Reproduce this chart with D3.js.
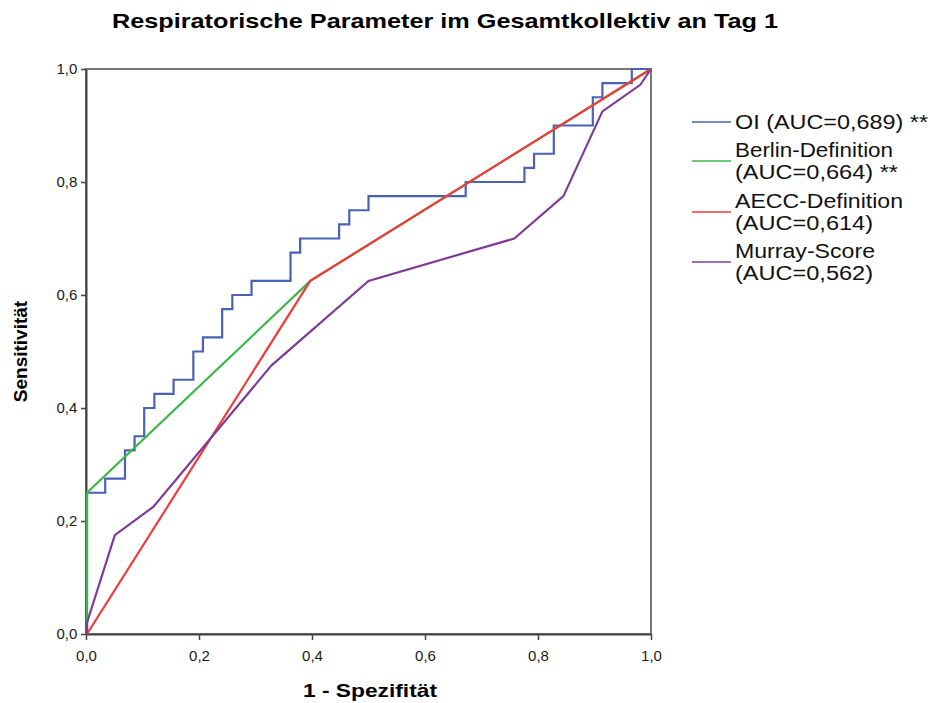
<!DOCTYPE html>
<html><head><meta charset="utf-8">
<script src="https://cdn.jsdelivr.net/npm/d3@7"></script>
<style>body{margin:0;background:#fff;} text{font-family:Arial,"Liberation Sans",Helvetica,sans-serif;}</style>
</head><body>
<svg id="c" width="930" height="703"></svg>
<script>
const titleText = "Respiratorische Parameter im Gesamtkollektiv an Tag 1";
const xLabel = "1 - Spezifität";
const yLabel = "Sensitivität";
const tickValues = [0, 0.2, 0.4, 0.6, 0.8, 1.0];

// OI step curve: operating points (step-before)
const oiFpr = [0, 0.034, 0.069, 0.086, 0.103, 0.121, 0.155, 0.190, 0.207, 0.241, 0.259, 0.293, 0.362, 0.379, 0.448, 0.466, 0.500, 0.672, 0.776, 0.793, 0.828, 0.897, 0.914, 0.966, 1.0];
const oiTpr = [0, 0.250, 0.275, 0.325, 0.350, 0.400, 0.425, 0.450, 0.500, 0.525, 0.575, 0.600, 0.625, 0.675, 0.700, 0.725, 0.750, 0.775, 0.800, 0.825, 0.850, 0.900, 0.950, 0.975, 1.0];
const berlinFpr = [0, 0, 0.397, 1.0];
const berlinTpr = [0, 0.25, 0.625, 1.0];
const aeccFpr = [0, 0.397, 1.0];
const aeccTpr = [0, 0.625, 1.0];
const murrayFpr = [0, 0, 0.051, 0.119, 0.328, 0.500, 0.758, 0.845, 0.914, 0.981, 1.0];
const murrayTpr = [0, 0.02, 0.175, 0.225, 0.475, 0.625, 0.700, 0.775, 0.925, 0.972, 1.0];

const seriesNames = ["OI", "Berlin", "AECC", "Murray"];
const legendLines = [["OI (AUC=0,689) **"], ["Berlin-Definition", "(AUC=0,664) **"], ["AECC-Definition", "(AUC=0,614)"], ["Murray-Score", "(AUC=0,562)"]];
const legendWidths = [[193], [158, 163], [168, 138], [140, 138]];
const colors = ["#4a62b4", "#3cb84a", "#ef3b3b", "#7e3c98"];

const svg = d3.select("#c");
const L = 86, T = 69, W = 565, H = 565;
const x = d3.scaleLinear().domain([0, 1]).range([L, L + W]);
const y = d3.scaleLinear().domain([0, 1]).range([T + H, T]);
const fmt = v => d3.format(".1f")(v).replace(".", ",");

// frame
svg.append("rect").attr("x", L).attr("y", T).attr("width", W).attr("height", H)
  .attr("fill", "none").attr("stroke", "#777").attr("stroke-width", 2);

const series = [
  {f: oiFpr, t: oiTpr, curve: d3.curveStepBefore},
  {f: berlinFpr, t: berlinTpr, curve: d3.curveLinear},
  {f: aeccFpr, t: aeccTpr, curve: d3.curveLinear},
  {f: murrayFpr, t: murrayTpr, curve: d3.curveLinear}
];

// axes
const xa = svg.append("g").attr("transform", `translate(0,${T + H})`)
  .call(d3.axisBottom(x).tickValues(tickValues).tickFormat(fmt).tickSize(6).tickSizeOuter(0));
const ya = svg.append("g").attr("transform", `translate(${L},0)`)
  .call(d3.axisLeft(y).tickValues(tickValues).tickFormat(fmt).tickSize(5).tickSizeOuter(0));
[xa, ya].forEach(g => {
  g.select(".domain").attr("stroke", "#444").attr("stroke-width", 2);
  g.selectAll(".tick line").attr("stroke", "#444").attr("stroke-width", 1.5);
  g.selectAll("text").attr("font-size", 15).attr("fill", "#1a1a1a").attr("font-family", "Arial, 'Liberation Sans', sans-serif");
});
xa.selectAll("text").attr("dy", "1.2em");
ya.selectAll("text").attr("dx", "-0.05em");

series.forEach((s, i) => {
  const pts = s.f.map((v, j) => [v, s.t[j]]);
  svg.append("path").datum(pts)
    .attr("d", d3.line().x(d => x(d[0]) + (d[0] === 0 ? 1 : 0)).y(d => y(d[1])).curve(s.curve))
    .attr("fill", "none").attr("stroke", colors[i]).attr("stroke-width", 2.2);
});

// title
svg.append("text").attr("x", 112).attr("y", 28).attr("font-size", 21).attr("font-weight", "bold")
  .attr("textLength", 666).attr("lengthAdjust", "spacingAndGlyphs").text(titleText);
// x label
svg.append("text").attr("x", 303).attr("y", 697).attr("font-size", 19).attr("font-weight", "bold")
  .attr("textLength", 134).attr("lengthAdjust", "spacingAndGlyphs").text(xLabel);
// y label
svg.append("text").attr("transform", `translate(27,${T + H / 2}) rotate(-90)`).attr("text-anchor", "middle")
  .attr("font-size", 19).attr("font-weight", "bold").text(yLabel);

// legend
const legY = [122, 161, 212, 262];
legendLines.forEach((lines, i) => {
  svg.append("line").attr("x1", 692).attr("x2", 731).attr("y1", legY[i]).attr("y2", legY[i])
    .attr("stroke", colors[i]).attr("stroke-width", 1.5);
  const base = lines.length === 1 ? legY[i] + 7 : legY[i] - 4;
  lines.forEach((t, k) => {
    svg.append("text").attr("x", 735).attr("y", base + k * 22).attr("font-size", 20).attr("fill", "#111")
      .attr("textLength", legendWidths[i][k]).attr("lengthAdjust", "spacingAndGlyphs").text(t);
  });
});
</script>
</body></html>
